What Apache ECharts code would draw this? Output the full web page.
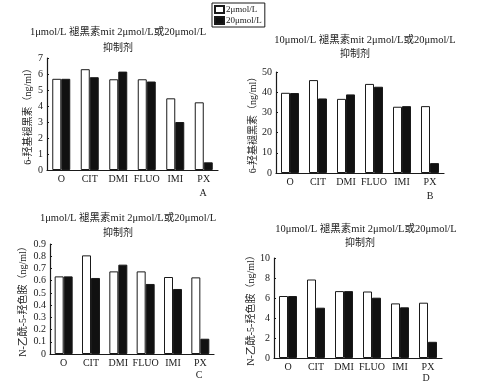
<!DOCTYPE html>
<html><head><meta charset="utf-8">
<script src="https://cdn.jsdelivr.net/npm/echarts@6/dist/echarts.min.js"></script>
<style>html,body{margin:0;padding:0;background:#fff}#c{width:478px;height:386px}</style>
</head><body><div id="c"></div>
<script>
var categories = ['O','CIT','DMI','FLUO','IMI','PX'];
var seriesNames = ['2\u03bcmol/L','20\u03bcmol/L'];
var a2  = [5.7, 6.3, 5.67, 5.67, 4.48, 4.23];
var a20 = [5.7, 5.8, 6.15, 5.53, 3.0, 0.48];
var b2  = [39.7, 46.0, 36.7, 44.1, 32.8, 33.1];
var b20 = [39.6, 36.9, 38.9, 42.7, 33.1, 4.9];
var c2  = [0.635, 0.807, 0.676, 0.676, 0.63, 0.627];
var c20 = [0.635, 0.622, 0.731, 0.573, 0.532, 0.125];
var d2  = [6.2, 7.85, 6.69, 6.65, 5.46, 5.53];
var d20 = [6.2, 5.03, 6.69, 6.03, 5.07, 1.62];
var titleLow = '1\u03bcmol/L \u892a\u9ed1\u7d20mit 2\u03bcmol/L\u621620\u03bcmol/L';
var titleHigh = '10\u03bcmol/L \u892a\u9ed1\u7d20mit 2\u03bcmol/L\u621620\u03bcmol/L';
var subTitle = '\u6291\u5236\u5242';
var yNameTop = '6-\u7f9f\u57fa\u892a\u9ed1\u7d20\uff08ng/ml\uff09';
var yNameBottom = 'N-\u4e59\u9170-5-\u7f9f\u8272\u80fa\uff08ng/ml\uff09';
var yMax = [7, 50, 0.9, 10];
var yInterval = [1, 10, 0.1, 2];
var panelLetters = ['A','B','C','D'];

var FONT = '"Liberation Serif","Noto Sans CJK SC",serif';
var INK = '#1a1a1a';
var grids = [
  {left: 47, top: 58, width: 171, height: 112},
  {left: 276, top: 72, width: 168, height: 101},
  {left: 50, top: 244, width: 164, height: 110},
  {left: 274, top: 258, width: 168, height: 100}
];
var nameGaps = [14, 18, 22, 16];
var yNames = [yNameTop, yNameTop, yNameBottom, yNameBottom];
var data2 = [a2, b2, c2, d2];
var data20 = [a20, b20, c20, d20];

var xAxes = [], yAxes = [], series = [];
for (var i = 0; i < 4; i++) {
  xAxes.push({
    type: 'category', gridIndex: i, data: categories, boundaryGap: true,
    axisLine: {lineStyle: {color: INK, width: 1.2}},
    axisTick: {show: false},
    axisLabel: {interval: 0, color: INK, fontFamily: FONT, fontSize: 10, margin: 4}
  });
  yAxes.push({
    type: 'value', gridIndex: i, min: 0, max: yMax[i], interval: yInterval[i],
    name: yNames[i], nameLocation: 'middle', nameGap: nameGaps[i],
    nameTextStyle: {color: INK, fontFamily: FONT, fontSize: 10},
    axisLine: {show: true, lineStyle: {color: INK, width: 1.2}},
    axisTick: {show: true, inside: true, length: 2, lineStyle: {color: INK}},
    splitLine: {show: false},
    axisLabel: {color: INK, fontFamily: FONT, fontSize: 10, margin: 4}
  });
  series.push({
    type: 'bar', name: seriesNames[0], xAxisIndex: i, yAxisIndex: i, data: data2[i],
    barWidth: 9, barGap: '0%',
    itemStyle: {color: '#fff', borderColor: INK, borderWidth: 1}
  });
  series.push({
    type: 'bar', name: seriesNames[1], xAxisIndex: i, yAxisIndex: i, data: data20[i],
    barWidth: 9, barGap: '0%',
    itemStyle: {color: '#111', borderColor: INK, borderWidth: 1}
  });
}

var titlePos = [
  {x: 118, y: 32, sx: 118, sy: 48, lx: 203, ly: 193},
  {x: 365, y: 40, sx: 355, sy: 54, lx: 430, ly: 196},
  {x: 128, y: 218, sx: 118, sy: 233, lx: 199, ly: 375},
  {x: 366, y: 229, sx: 360, sy: 243, lx: 426, ly: 378}
];
var graphics = [];
for (var j = 0; j < 4; j++) {
  var p = titlePos[j];
  graphics.push({type: 'text', x: p.x, y: p.y, style: {text: j % 2 === 0 ? titleLow : titleHigh, fill: INK, font: '10.5px ' + FONT, textAlign: 'center', textVerticalAlign: 'middle'}});
  graphics.push({type: 'text', x: p.sx, y: p.sy, style: {text: subTitle, fill: INK, font: '10px ' + FONT, textAlign: 'center', textVerticalAlign: 'middle'}});
  graphics.push({type: 'text', x: p.lx, y: p.ly, style: {text: panelLetters[j], fill: INK, font: '10px ' + FONT, textAlign: 'center', textVerticalAlign: 'middle'}});
}

var chart = echarts.init(document.getElementById('c'), null, {renderer: 'canvas'});
chart.setOption({
  backgroundColor: '#fff',
  animation: false,
  legend: {
    data: seriesNames, orient: 'vertical', left: 212, top: 3, icon: 'rect',
    itemWidth: 9, itemHeight: 7, itemGap: 2,
    padding: [2, 3, 2, 2], borderColor: INK, borderWidth: 1,
    textStyle: {color: INK, fontFamily: FONT, fontSize: 9, padding: [0, 0, 0, -3]}
  },
  grid: grids,
  xAxis: xAxes,
  yAxis: yAxes,
  series: series,
  graphic: graphics
});
</script></body></html>
